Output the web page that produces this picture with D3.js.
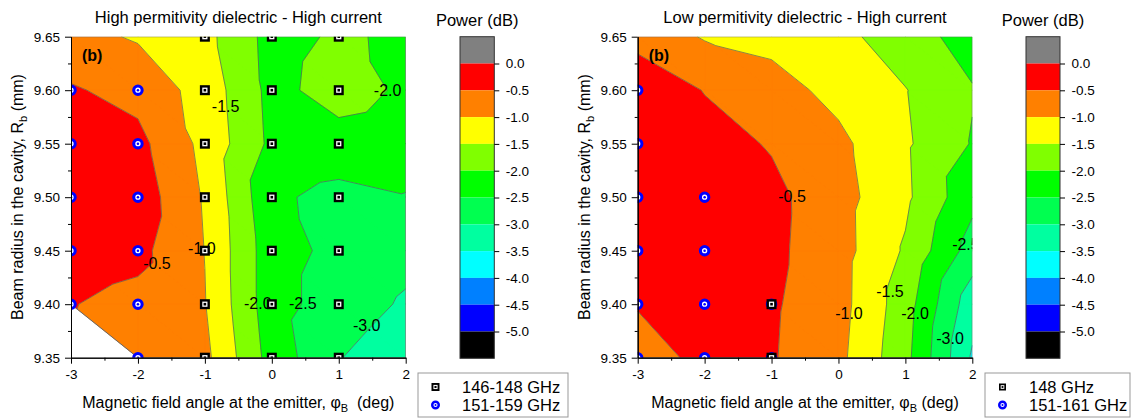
<!DOCTYPE html>
<html><head><meta charset="utf-8">
<script src="https://cdn.jsdelivr.net/npm/d3@7"></script>
<style>
body{margin:0;background:#fff}
svg{display:block}
text{font-family:"Liberation Sans",Arial,sans-serif;fill:#000}
</style>
</head><body>
<svg id="c" width="1138" height="419"></svg>
<script>
// ---------------- DATA ----------------
const xVals = [-3, -2, -1, 0, 1, 2];                         // magnetic field angle (deg)
const yVals = [9.65, 9.60, 9.55, 9.50, 9.45, 9.40, 9.35];     // beam radius (mm), top row first
const levels = [0, -0.5, -1, -1.5, -2, -2.5, -3, -3.5, -4, -4.5, -5];
const bandColors = ["#808080","#ff0000","#ff8000","#ffff00","#80ff00","#00ff00",
                    "#00ff50","#00ffa0","#00ffff","#0080ff","#0000ff","#000000"];

// Power (dB), rows = yVals, columns = xVals ; null = no data
const powerHigh = [
  [-0.85, -1.05, -1.35, -2.18, -1.93, -2.09],
  [-0.45, -0.66, -1.20, -2.15, -1.79, -2.08],
  [-0.30, -0.36, -1.14, -2.11, -2.20, -2.30],
  [-0.20, -0.22, -1.05, -2.41, -2.65, -2.52],
  [-0.25, -0.36, -1.01, -2.30, -2.63, -2.85],
  [-0.48, -0.65, -0.98, -2.30, -2.75, -3.06],
  [ null, -0.70, -0.87, -2.20, -2.98, -3.30]
];
const powerLow = [
  [-0.68, -1.04, -1.15, -1.35, -1.78, -2.20],
  [-0.12, -0.52, -0.80, -1.15, -1.48, -1.97],
  [-0.10, -0.30, -0.54, -0.88, -1.43, -2.03],
  [-0.10, -0.20, -0.37, -0.81, -1.40, -2.36],
  [-0.15, -0.15, -0.39, -0.80, -1.56, -2.72],
  [-0.42, -0.20, -0.44, -0.81, -1.77, -3.30],
  [-1.03, -0.19, -0.46, -0.87, -1.85, -3.56]
];

// measured points [angle, radius]
const squaresHigh = [
  [-1,9.65],[-1,9.60],[-1,9.55],[-1,9.50],[-1,9.45],[-1,9.40],[-1,9.35],
  [0,9.65],[0,9.60],[0,9.55],[0,9.50],[0,9.45],[0,9.40],[0,9.35],
  [1,9.65],[1,9.60],[1,9.55],[1,9.50],[1,9.45],[1,9.40],[1,9.35]
];
const circlesHigh = [
  [-3,9.60],[-3,9.55],[-3,9.50],[-3,9.45],[-3,9.40],
  [-2,9.60],[-2,9.55],[-2,9.50],[-2,9.45],[-2,9.40],[-2,9.35]
];
const squaresLow = [[-1,9.40],[-1,9.35]];
const circlesLow = [
  [-3,9.60],[-3,9.55],[-3,9.50],[-3,9.45],[-3,9.40],[-3,9.35],
  [-2,9.50],[-2,9.45],[-2,9.40],[-2,9.35],
  [-1,9.40],[-1,9.35]
];

// contour labels: [level, angle, radius]
const labelsHigh = [[-1.5,-0.69,9.585],[-2.0,1.73,9.600],[-1.0,-1.045,9.452],[-0.5,-1.716,9.438],
                    [-2.0,-0.21,9.4005],[-2.5,0.463,9.4005],[-3.0,1.418,9.380]];
const labelsLow  = [[-0.5,-0.694,9.5005],[-1.0,0.157,9.392],[-1.5,0.770,9.4117],[-2.0,1.144,9.392],
                    [-2.5,1.905,9.4556],[-3.0,1.668,9.3678]];

const titles = ["High permitivity dielectric - High current", "Low permitivity dielectric - High current"];
const legendTexts = [["146-148 GHz","151-159 GHz"], ["148 GHz","151-161 GHz"]];

// ---------------- LAYOUT ----------------
const svg = d3.select("#c");
const defs = svg.append("defs");
const yTop = 36.7, yBot = 357.7;

const panels = [
  {data: powerHigh, sq: squaresHigh, ci: circlesHigh, lab: labelsHigh, title: titles[0], leg: legendTexts[0],
   x0: 71, x1: 405.7, cbX: 460, cbW: 34.3, lgX: 418, lgW: 150, xGap: "\u00a0\u00a0", sqLeg: 8},
  {data: powerLow, sq: squaresLow, ci: circlesLow, lab: labelsLow, title: titles[1], leg: legendTexts[1],
   x0: 637.7, x1: 972.3, cbX: 1026, cbW: 34, lgX: 985, lgW: 145, xGap: "\u00a0", sqLeg: 7}
];

function clipPoly(poly, keep, L) {
  const out = [];
  for (let i = 0; i < poly.length; i++) {
    const a = poly[i], b = poly[(i + 1) % poly.length];
    const ai = keep(a.v), bi = keep(b.v);
    if (ai) out.push(a);
    if (ai !== bi) {
      const t = (L - a.v) / (b.v - a.v);
      out.push({x: a.x + t * (b.x - a.x), y: a.y + t * (b.y - a.y), v: L});
    }
  }
  return out;
}

function drawSquare(g, cx, cy, s) {
  const sw = s * 0.24;
  g.append("rect").attr("x", cx - s/2 + sw/2).attr("y", cy - s/2 + sw/2)
    .attr("width", s - sw).attr("height", s - sw)
    .attr("fill", "#fff").attr("stroke", "#000").attr("stroke-width", sw);
  g.append("rect").attr("x", cx - s*0.13).attr("y", cy - s*0.13).attr("width", s*0.26).attr("height", s*0.26)
    .attr("fill", "#000");
}
function drawCircle(g, cx, cy, s) {
  const sw = s * 0.27;
  g.append("circle").attr("cx", cx).attr("cy", cy).attr("r", s/2 - sw/2)
    .attr("fill", "#fff").attr("stroke", "#0000ff").attr("stroke-width", sw);
  g.append("circle").attr("cx", cx).attr("cy", cy).attr("r", s * 0.11).attr("fill", "#0000ff");
}

function styleAxis(sel, fs) {
  sel.attr("font-family", null).attr("font-size", null);
  sel.selectAll("text").style("font-size", fs + "px").attr("fill", "#000");
  sel.selectAll("line").attr("stroke", "#000");
  sel.select(".domain").attr("stroke", "#000");
}

panels.forEach((p, pi) => {
  const x = d3.scaleLinear().domain([d3.min(xVals), d3.max(xVals)]).range([p.x0, p.x1]);
  const y = d3.scaleLinear().domain([d3.min(yVals), d3.max(yVals)]).range([yBot, yTop]);
  const clipId = "clip" + pi;
  defs.append("clipPath").attr("id", clipId).append("rect")
    .attr("x", p.x0).attr("y", yTop).attr("width", p.x1 - p.x0).attr("height", yBot - yTop);

  // triangulation of the grid
  const tris = [];
  const P = (r, c) => { const v = p.data[r][c]; return v == null ? null : {x: xVals[c], y: yVals[r], v}; };
  for (let r = 0; r < yVals.length - 1; r++) {
    for (let c = 0; c < xVals.length - 1; c++) {
      const tl = P(r, c), tr = P(r, c + 1), bl = P(r + 1, c), br = P(r + 1, c + 1);
      [[tl, tr, br], [tl, bl, br]].forEach(t => { if (t.every(d => d)) tris.push(t); });
    }
  }

  const g = svg.append("g");
  const cg = g.append("g").attr("clip-path", `url(#${clipId})`);

  // filled bands
  bandColors.forEach((col, i) => {
    const hi = i === 0 ? Infinity : levels[i - 1];
    const lo = i === bandColors.length - 1 ? -Infinity : levels[i];
    let d = "";
    tris.forEach(t => {
      let poly = t;
      if (isFinite(lo)) poly = clipPoly(poly, v => v >= lo, lo);
      if (poly.length >= 3 && isFinite(hi)) poly = clipPoly(poly, v => v <= hi, hi);
      if (poly.length >= 3) d += "M" + poly.map(q => x(q.x) + "," + y(q.y)).join("L") + "Z";
    });
    if (d) cg.append("path").attr("d", d).attr("fill", col).attr("stroke", col)
      .attr("stroke-width", 0.6).attr("stroke-linejoin", "round");
  });

  // contour lines
  levels.forEach(L => {
    let d = "";
    tris.forEach(t => {
      const pts = [];
      for (let k = 0; k < 3; k++) {
        const a = t[k], b = t[(k + 1) % 3];
        if ((a.v - L) * (b.v - L) < 0) {
          const s = (L - a.v) / (b.v - a.v);
          pts.push([x(a.x + s * (b.x - a.x)), y(a.y + s * (b.y - a.y))]);
        }
      }
      if (pts.length === 2) d += `M${pts[0]}L${pts[1]}`;
    });
    if (d) cg.append("path").attr("d", d).attr("fill", "none").attr("stroke", "#5a5a5a").attr("stroke-width", 0.7);
  });

  // boundary of data region
  const edgeCount = new Map();
  tris.forEach(t => {
    for (let k = 0; k < 3; k++) {
      const a = t[k], b = t[(k + 1) % 3];
      const ka = a.x + "_" + a.y, kb = b.x + "_" + b.y;
      const key = ka < kb ? ka + "|" + kb : kb + "|" + ka;
      const e = edgeCount.get(key) || {n: 0, a, b};
      e.n++; edgeCount.set(key, e);
    }
  });
  let bd = "";
  edgeCount.forEach(e => { if (e.n === 1) bd += `M${x(e.a.x)},${y(e.a.y)}L${x(e.b.x)},${y(e.b.y)}`; });
  cg.append("path").attr("d", bd).attr("fill", "none").attr("stroke", "#666").attr("stroke-width", 1);

  // contour labels
  p.lab.forEach(l => {
    cg.append("text").attr("x", x(l[1])).attr("y", y(l[2])).attr("dy", "0.36em")
      .attr("text-anchor", "middle").style("font-size", "16px").text(l[0].toFixed(1));
  });

  // markers
  const mg = g.append("g").attr("clip-path", `url(#${clipId})`);
  p.ci.forEach(d => drawCircle(mg, x(d[0]), y(d[1]), 11.5));
  p.sq.forEach(d => drawSquare(mg, x(d[0]), y(d[1]), 10));

  // (b)
  g.append("text").attr("x", p.x0 + 11).attr("y", 61).style("font-size", "16px")
    .style("font-weight", "bold").text("(b)");

  // axes
  const yMinor = d3.pairs(yVals).map(([a, b]) => (a + b) / 2);
  const xMinor = d3.pairs(xVals).map(([a, b]) => (a + b) / 2);
  const ya = g.append("g").attr("transform", `translate(${p.x0},0)`)
    .call(d3.axisLeft(y).tickValues(yVals).tickFormat(d => d.toFixed(2)).tickSize(6).tickSizeOuter(0).tickPadding(5));
  styleAxis(ya, 13.5);
  const yam = g.append("g").attr("transform", `translate(${p.x0},0)`)
    .call(d3.axisLeft(y).tickValues(yMinor).tickFormat("").tickSize(3).tickSizeOuter(0));
  styleAxis(yam, 13.5);
  const xa = g.append("g").attr("transform", `translate(0,${yBot})`)
    .call(d3.axisBottom(x).tickValues(xVals).tickFormat(d => String(d)).tickSize(6).tickSizeOuter(0).tickPadding(6));
  styleAxis(xa, 13.5);
  const xam = g.append("g").attr("transform", `translate(0,${yBot})`)
    .call(d3.axisBottom(x).tickValues(xMinor).tickFormat("").tickSize(3).tickSizeOuter(0));
  styleAxis(xam, 13.5);

  // titles
  g.append("text").attr("x", (p.x0 + p.x1) / 2).attr("y", 23).attr("text-anchor", "middle")
    .style("font-size", "16.5px").text(p.title);
  const yt = g.append("text").attr("transform", `translate(${p.x0 - 48},197) rotate(-90)`)
    .attr("text-anchor", "middle").style("font-size", "16px");
  yt.append("tspan").text("Beam radius in the cavity, R");
  yt.append("tspan").attr("dy", 4).style("font-size", "11px").text("b");
  yt.append("tspan").attr("dy", -4).text(" (mm)");
  const xt = g.append("text").attr("x", (p.x0 + p.x1) / 2).attr("y", 408).attr("text-anchor", "middle")
    .style("font-size", "16px");
  xt.append("tspan").text("Magnetic field angle at the emitter, \u03c6");
  xt.append("tspan").attr("dy", 4).style("font-size", "11px").text("B");
  xt.append("tspan").attr("dy", -4).text(p.xGap + "(deg)");

  // colour bar
  const cb = d3.scaleLinear().domain([0.5, -5.5]).range([yTop, 358.3]);
  const cbg = g.append("g");
  bandColors.forEach((col, i) => {
    const hi = i === 0 ? 0.5 : levels[i - 1];
    const lo = i === bandColors.length - 1 ? -5.5 : levels[i];
    cbg.append("rect").attr("x", p.cbX).attr("y", cb(hi)).attr("width", p.cbW).attr("height", cb(lo) - cb(hi))
      .attr("fill", col);
  });
  cbg.append("rect").attr("x", p.cbX).attr("y", cb(0.5)).attr("width", p.cbW).attr("height", cb(-5.5) - cb(0.5))
    .attr("fill", "none").attr("stroke", "#333").attr("stroke-width", 1);
  const cba = cbg.append("g").attr("transform", `translate(${p.cbX + p.cbW},0)`)
    .call(d3.axisRight(cb).tickValues(levels).tickFormat(d => d.toFixed(1)).tickSize(5).tickSizeOuter(0).tickPadding(6.5));
  styleAxis(cba, 13.5);
  cba.select(".domain").remove();
  cbg.append("text").attr("x", p.cbX + p.cbW / 2).attr("y", 26).attr("text-anchor", "middle")
    .style("font-size", "16.5px").text("Power (dB)");

  // legend
  const lg = g.append("g");
  lg.append("rect").attr("x", p.lgX).attr("y", 373).attr("width", p.lgW).attr("height", 44)
    .attr("fill", "#fff").attr("stroke", "#999").attr("stroke-width", 1);
  drawSquare(lg, p.lgX + 17.5, 387, p.sqLeg);
  drawCircle(lg, p.lgX + 17.5, 405, 9);
  lg.append("text").attr("x", p.lgX + 44).attr("y", 393).style("font-size", "16.5px").text(p.leg[0]);
  lg.append("text").attr("x", p.lgX + 44).attr("y", 411).style("font-size", "16.5px").text(p.leg[1]);
});
</script>
</body></html>
